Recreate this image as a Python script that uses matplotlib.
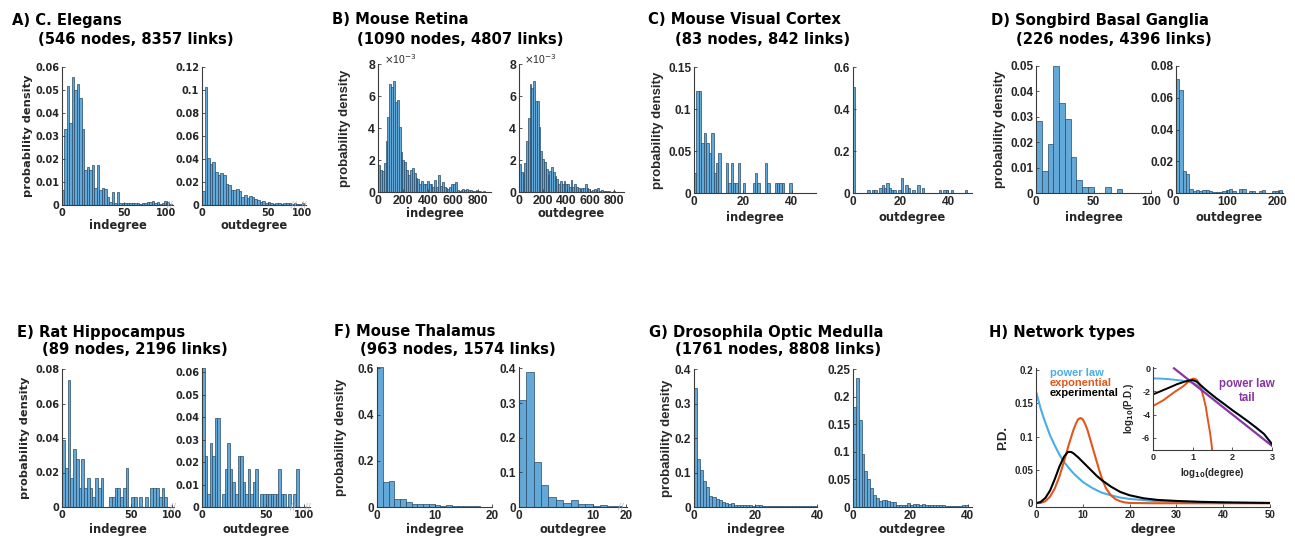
import matplotlib
matplotlib.use('Agg')
import matplotlib.pyplot as plt
from matplotlib.transforms import blended_transform_factory
import numpy as np

plt.rcParams['axes.unicode_minus'] = False

# ---------------- data (probability densities) ----------------
A_in_bin = 2
A_in = [0.0065, 0.033, 0.0516, 0.0357, 0.0554, 0.0499, 0.0525, 0.0463, 0.033, 0.015,
        0.0166, 0.015, 0.0174, 0.0075, 0.0174, 0.0065, 0.0075, 0.0068, 0.0035, 0.0012,
        0.0055, 0.001, 0.0055, 0.0008, 0.0008, 0.001, 0.001, 0.001, 0.001, 0.001,
        0.0008, 0.0004, 0.0008, 0.0008, 0.0012, 0.0012, 0.0016, 0.0008, 0.0012, 0.0004,
        0.0008, 0.0016, 0.0012, 0.0004]
A_out_bin = 2
A_out = [0.012, 0.1026, 0.041, 0.036, 0.037, 0.029, 0.026, 0.0275, 0.026, 0.018,
         0.017, 0.013, 0.013, 0.0135, 0.0125, 0.007, 0.0085, 0.006, 0.008, 0.007,
         0.005, 0.0045, 0.003, 0.0035, 0.002, 0.003, 0.0015, 0.001, 0.002, 0.0015,
         0.001, 0.002, 0.0015, 0.002, 0.001, 0.0015, 0.001, 0.001, 0.0015]

B_bin = 15          # values below in units of 1e-3
B_in = [1.7, 1.4, 1.33, 1.85, 3.2, 4.7, 6.8, 6.6, 6.95, 5.65,
        5.75, 4.1, 2.55, 2.0, 1.9, 1.4, 1.08, 1.4, 1.5, 1.2,
        0.9, 0.85, 0.55, 0.7, 0.55, 0.55, 0.7, 0.5, 0.55, 0.35,
        0.77, 0.35, 1.08, 0.42, 0.65, 0.35, 0.25, 0.2, 0.35, 0.55,
        0.55, 0.62, 0.15, 0.08, 0.15, 0.2, 0.15, 0.2, 0.15, 0.15,
        0.08, 0.08, 0.15, 0.08, 0.08, 0.04, 0.08]
B_out = [1.75, 1.3, 1.2, 1.85, 3.2, 4.65, 6.8, 6.55, 6.95, 5.7,
         5.7, 4.1, 2.6, 2.1, 1.9, 1.45, 1.1, 1.35, 1.6, 1.25,
         1.0, 0.85, 0.55, 0.7, 0.5, 0.7, 0.55, 0.5, 0.35, 0.8,
         0.35, 0.5, 0.35, 0.25, 0.2, 0.3, 0.3, 0.55, 0.25, 0.2,
         0.1, 0.15, 0.2, 0.15, 0.25, 0.1, 0.15, 0.1, 0.1, 0.1,
         0.08, 0.04, 0.05, 0.08, 0.04, 0.04, 0.0]

C_bin = 1
C_in = [0.024, 0.121, 0.121, 0.06, 0.072, 0.06, 0.048, 0.072, 0.024, 0.036,
        0.048, 0, 0, 0.036, 0.012, 0.036, 0.012, 0.012, 0.036, 0,
        0.012, 0, 0, 0, 0.012, 0.024, 0.012, 0, 0, 0.036,
        0.012, 0, 0, 0.012, 0.012, 0.012, 0.012, 0, 0, 0.012]
C_out = [0.506, 0, 0, 0, 0, 0, 0.012, 0, 0.012, 0.012,
         0, 0.024, 0.036, 0.024, 0.048, 0.024, 0.012, 0.012, 0, 0.012,
         0.072, 0, 0.036, 0.024, 0, 0.012, 0, 0.036, 0, 0.024,
         0, 0, 0, 0, 0, 0, 0.012, 0, 0.012, 0.012,
         0, 0.012, 0, 0, 0, 0, 0, 0.012]

D_in_bin = 5
D_in = [0.0283, 0.0087, 0.0194, 0.05, 0.0354, 0.0293, 0.0142, 0.0052, 0.0024, 0.0024,
        0, 0, 0.0024, 0, 0.0014]
D_out_bin = 6.5
D_out = [0.0716, 0.0647, 0.0139, 0.0122, 0.0027, 0.0013, 0.002, 0.0013, 0.002, 0.002,
         0.0013, 0.0007, 0.0007, 0.0007, 0.0013, 0.002, 0.0027, 0.0013, 0.0, 0.0027,
         0.0027, 0.0, 0.0013, 0.0013, 0.0, 0.0013, 0.002, 0.0, 0.0, 0.0013,
         0.0013, 0.002, 0.0]

E_bin = 2
E_in = [0.039, 0.0225, 0.0736, 0.0169, 0.0337, 0.028, 0.0112, 0.028, 0.0112, 0.0169,
        0.0112, 0.0056, 0.0169, 0.0112, 0.0169, 0, 0, 0.0056, 0.0056, 0.0112,
        0.0112, 0.0056, 0.0112, 0.0225, 0, 0.0056, 0.0056, 0, 0.0056, 0,
        0.0056, 0, 0.0112, 0.0112, 0.0112, 0.0056, 0.0112, 0.0056, 0, 0]
E_out = [0.062, 0.0227, 0.006, 0.0284, 0.0227, 0.0396, 0.0396, 0, 0.006, 0.017,
         0.0284, 0.017, 0.0113, 0.006, 0.0227, 0.0227, 0.0113, 0.006, 0.017, 0.006,
         0.0113, 0.017, 0, 0.006, 0.006, 0.006, 0.006, 0.006, 0.006, 0.006,
         0.017, 0.006, 0.006, 0, 0.006, 0, 0.006, 0.017, 0]

F_bin = 1
F_in = [0.605, 0.108, 0.113, 0.033, 0.033, 0.022, 0.014, 0.012, 0.014, 0.014,
        0.009, 0.006, 0.009, 0.003, 0.005, 0.003, 0.003, 0.003, 0.002, 0.002]
F_out = [0.31, 0.39, 0.13, 0.0627, 0.029, 0.021, 0.0125, 0.019, 0.008, 0.0096,
         0.003, 0.006, 0.002, 0.003]

G_bin = 1
G_in = [0.345, 0.139, 0.107, 0.075, 0.057, 0.033, 0.029, 0.022, 0.021, 0.0146,
        0.0126, 0.0097, 0.0116, 0.0068, 0.0058, 0.0068, 0.0049, 0.0049, 0.0058, 0.0039,
        0.0049, 0.0049, 0.0039, 0.0029, 0.0039, 0.0029, 0.0029, 0.0029, 0.0039, 0.0029,
        0.0029, 0.0039, 0.0019, 0.0029, 0.0019, 0.0019, 0.0029, 0.0019, 0.0029, 0.0029]
G_out = [0.182, 0.235, 0.158, 0.0965, 0.0655, 0.05, 0.0346, 0.021, 0.0164, 0.0103,
         0.0121, 0.0133, 0.0103, 0.0097, 0.0097, 0.0043, 0.0043, 0.0036, 0.0043, 0.0067,
         0.0036, 0.0049, 0.0055, 0.0036, 0.0049, 0.0036, 0.0036, 0.003, 0.0036, 0.0036,
         0.0036, 0.0043, 0.0024, 0.0024, 0.0024, 0.0024, 0.0024, 0.0024, 0.0036, 0.0043]

# H) network types: curves
H_pl_x = [0, 0.5, 1, 1.5, 2, 3, 4, 5, 6, 7, 8, 10, 12, 14, 16, 18, 20, 25, 30, 35, 40, 45, 50]
H_pl_y = [0.168, 0.155, 0.142, 0.131, 0.121, 0.102, 0.087, 0.073, 0.062, 0.053, 0.045, 0.032,
          0.023, 0.016, 0.012, 0.0085, 0.0065, 0.0035, 0.002, 0.0012, 0.0008, 0.0005, 0.0003]
H_ex_x = [0, 1, 2, 3, 4, 5, 6, 7, 8, 8.5, 9, 9.5, 10, 10.5, 11, 11.5, 12, 12.5, 13, 13.5,
          14, 14.5, 15, 16, 17, 18, 19, 20, 25, 30, 40, 50]
H_ex_y = [0, 0.0005, 0.003, 0.010, 0.022, 0.040, 0.063, 0.088, 0.110, 0.119, 0.126, 0.128,
          0.126, 0.119, 0.110, 0.098, 0.086, 0.074, 0.062, 0.050, 0.039, 0.030, 0.022, 0.012,
          0.006, 0.003, 0.0012, 0.0005, 0, 0, 0, 0]
H_xp_x = [0, 1, 2, 3, 4, 5, 6, 6.8, 7.5, 8, 9, 10, 11, 12, 13, 14, 15, 16, 18, 20, 23, 26,
          30, 35, 40, 45, 50]
H_xp_y = [0, 0.002, 0.008, 0.019, 0.036, 0.055, 0.070, 0.077, 0.077, 0.075, 0.069, 0.062,
          0.055, 0.048, 0.041, 0.035, 0.030, 0.025, 0.017, 0.012, 0.0075, 0.005, 0.0035,
          0.0022, 0.0014, 0.0009, 0.0005]
# inset (log10 scale)
I_pl_x = [0, 0.2, 0.4, 0.6, 0.8, 1.0, 1.2, 1.4, 1.6, 1.8, 2.0, 2.4, 2.8, 3.0]
I_pl_y = [-0.87, -0.89, -0.94, -1.01, -1.1, -1.25, -1.6, -2.05, -2.6, -3.1, -3.62, -4.6, -5.68, -6.55]
I_ex_x = [0, 0.27, 0.52, 0.77, 0.94, 1.02, 1.1, 1.18, 1.27, 1.33, 1.37, 1.41, 1.44, 1.47, 1.49]
I_ex_y = [-3.26, -2.74, -2.1, -1.53, -1.0, -0.88, -0.98, -1.4, -2.45, -3.3, -4.18, -5.0, -5.6, -6.4, -7.0]
I_xp_x = [0, 0.2, 0.4, 0.6, 0.8, 0.9, 1.0, 1.1, 1.2, 1.4, 1.6, 1.8, 2.0, 2.2, 2.4, 2.6, 2.8, 3.0]
I_xp_y = [-2.25, -1.97, -1.68, -1.38, -1.15, -1.06, -1.02, -1.15, -1.45, -2.05, -2.6, -3.1,
          -3.62, -4.1, -4.6, -5.12, -5.68, -6.55]
I_tail_x = [0.53, 3.0]
I_tail_y = [0.0, -6.7]

# ---------------- styling ----------------
W, H = 1295, 537
fig = plt.figure(figsize=(W / 100, H / 100), dpi=100)
FC = '#62a8d8'
EC = '#2a4a63'
TXT = '#262626'
SP = '#3c3c3c'
DJ = 'DejaVu Sans'
AR = 'Liberation Sans'
C_BLUE = '#4aaee6'
C_ORG = '#e2561c'
C_PUR = '#8a35a3'


def make_ax(l, r, t, b):
    return fig.add_axes([l / W, 1 - b / H, (r - l) / W, (b - t) / H])


def style(ax):
    for s in ['top', 'right']:
        ax.spines[s].set_visible(False)
    for s in ['left', 'bottom']:
        ax.spines[s].set_color(SP)
        ax.spines[s].set_linewidth(0.8)
    ax.tick_params(direction='in', length=2.5, width=0.6, colors=SP, labelcolor=TXT, pad=2)


def place_labels(ax, box, xlab_y, ylab_x):
    l, r, t, b = box
    ax.xaxis.set_label_coords(0.5, (b - xlab_y) / (b - t))
    ax.xaxis.label.set_va('center')
    ax.yaxis.set_label_coords((ylab_x - l) / (r - l), 0.5)
    ax.yaxis.label.set_va('center')


def hist_panel(box, heights, binw, xlim, ylim, xticks, xlabels, yticks, xlabel, ylabel,
               tfont, tsize, xfont, xsize, yfont, ysize, xlab_y, ylab_x, breaks=()):
    ax = make_ax(*box)
    starts = binw * np.arange(len(heights))
    ax.bar(starts, heights, width=binw, align='edge', color=FC, edgecolor=EC, linewidth=0.5)
    ax.set_xlim(xlim)
    ax.set_ylim(ylim)
    style(ax)
    ax.set_xticks(xticks, xlabels, fontfamily=tfont, fontweight='bold', fontsize=tsize)
    ax.set_yticks(yticks, ['%g' % v for v in yticks], fontfamily=tfont, fontweight='bold',
                  fontsize=tsize)
    ax.set_xlabel(xlabel, fontfamily=xfont, fontweight='bold', fontsize=xsize, color=TXT)
    if ylabel:
        ax.set_ylabel(ylabel, fontfamily=yfont, fontweight='bold', fontsize=ysize, color=TXT)
    place_labels(ax, box, xlab_y, ylab_x)
    tr = blended_transform_factory(ax.transData, ax.transAxes)
    for bx in breaks:
        ax.text(bx, 0.0, '//', transform=tr, ha='center', va='center', fontsize=6,
                color='#b5b5b5', fontfamily=DJ, clip_on=False)
    return ax


def title(x, y, s, size=10.6):
    fig.text(x / W, 1 - y / H, s, ha='left', va='center', fontfamily=DJ, fontweight='bold',
             fontsize=size, color='black')


PD = 'probability density'

# ---- A ----
hist_panel((62, 173, 66.7, 205), A_in, A_in_bin, (0, 88.9), (0, 0.06), [0, 50, 83.5],
           ['0', '50', '100'], np.arange(0, 0.061, 0.01), 'indegree', PD,
           DJ, 7, DJ, 8.3, DJ, 8.2, 226, 28, breaks=[86])
hist_panel((202, 306, 66.7, 205), A_out, A_out_bin, (0, 79.3), (0, 0.12), [0, 50, 76],
           ['0', '50', '100'], np.arange(0, 0.121, 0.02), 'outdegree', None,
           DJ, 7, DJ, 8.3, DJ, 8.2, 226, 170, breaks=[70, 77.5])
title(12, 20, 'A) C. Elegans')
title(38, 39, '(546 nodes, 8357 links)')

# ---- B ----
axb1 = hist_panel((378, 491, 64.3, 192.3), B_in, B_bin, (0, 904), (0, 8), [0, 200, 400, 600, 800],
                  ['0', '200', '400', '600', '800'], [0, 2, 4, 6, 8], 'indegree', PD,
                  AR, 8.8, DJ, 8.3, AR, 9.5, 214, 345)
axb2 = hist_panel((519, 624, 64.3, 192.3), B_out, B_bin, (0, 884), (0, 8), [0, 200, 400, 600, 800],
                  ['0', '200', '400', '600', '800'], [0, 2, 4, 6, 8], 'outdegree', None,
                  AR, 8.8, DJ, 8.3, AR, 9.5, 214, 490)
for axb in (axb1, axb2):
    axb.text(0.05, 1.04, r'$\times$10$^{-3}$', transform=axb.transAxes, ha='left', va='center',
             fontsize=7.5, fontfamily=AR, color=TXT)
title(332, 20, 'B) Mouse Retina')
title(357, 39, '(1090 nodes, 4807 links)')

# ---- C ----
hist_panel((694, 816, 67, 193), C_in, C_bin, (0, 50), (0, 0.15), [0, 20, 40], ['0', '20', '40'],
           [0, 0.05, 0.1, 0.15], 'indegree', PD, AR, 8.5, DJ, 8.3, AR, 9.5, 218, 658)
hist_panel((853, 972, 67, 193), C_out, C_bin, (0, 50), (0, 0.6), [0, 20, 40], ['0', '20', '40'],
           [0, 0.2, 0.4, 0.6], 'outdegree', None, AR, 8.5, DJ, 8.3, AR, 9.5, 218, 820)
title(648, 20, 'C) Mouse Visual Cortex')
title(675, 39, '(83 nodes, 842 links)')

# ---- D ----
hist_panel((1036, 1151, 66, 193), D_in, D_in_bin, (0, 100), (0, 0.05), [0, 50, 100],
           ['0', '50', '100'], np.arange(0, 0.051, 0.01), 'indegree', PD,
           AR, 8.5, DJ, 8.3, AR, 9.5, 218, 1000)
hist_panel((1176, 1283, 66, 193), D_out, D_out_bin, (0, 210), (0, 0.08), [0, 100, 200],
           ['0', '100', '200'], np.arange(0, 0.081, 0.02), 'outdegree', None,
           AR, 8.5, DJ, 8.3, AR, 9.5, 218, 1140)
title(991, 20, 'D) Songbird Basal Ganglia')
title(1016, 39, '(226 nodes, 4396 links)')

# ---- E ----
hist_panel((62, 174, 369, 507), E_in, E_bin, (0, 81), (0, 0.08), [0, 50, 79.8],
           ['0', '50', '100'], np.arange(0, 0.081, 0.02), 'indegree', PD,
           DJ, 7, DJ, 8.3, DJ, 8.2, 530, 25, breaks=[80])
hist_panel((202, 310, 368, 507), E_out, E_bin, (0, 85), (0, 0.062), [0, 50, 80.3],
           ['0', '50', '100'], np.arange(0, 0.061, 0.01), 'outdegree', None,
           DJ, 7, DJ, 8.3, DJ, 8.2, 530, 170, breaks=[71.5, 83])
title(17, 332, 'E) Rat Hippocampus')
title(42, 350, '(89 nodes, 2196 links)')

# ---- F ----
hist_panel((377, 492, 366.7, 507), F_in, F_bin, (0, 20), (0, 0.607), [0, 10, 20], ['0', '10', '20'],
           [0, 0.2, 0.4, 0.6], 'indegree', PD, AR, 8.5, DJ, 8.3, AR, 9.5, 530, 341)
hist_panel((519, 627, 366.7, 507), F_out, F_bin, (0, 14.65), (0, 0.405), [0, 10, 14.5],
           ['0', '10', '20'], [0, 0.1, 0.2, 0.3, 0.4], 'outdegree', None,
           AR, 8.5, DJ, 8.3, AR, 9.5, 530, 490, breaks=[13.8])
title(334, 332, 'F) Mouse Thalamus')
title(360, 350, '(963 nodes, 1574 links)')

# ---- G ----
hist_panel((694, 817, 369.3, 507), G_in, G_bin, (0, 40), (0, 0.4), [0, 20, 40], ['0', '20', '40'],
           [0, 0.1, 0.2, 0.3, 0.4], 'indegree', PD, AR, 8.5, DJ, 8.3, AR, 9.5, 530, 667)
hist_panel((853, 972, 369.3, 507), G_out, G_bin, (0, 41.5), (0, 0.25), [0, 20, 40],
           ['0', '20', '40'], [0, 0.05, 0.1, 0.15, 0.2, 0.25], 'outdegree', None,
           AR, 8.5, DJ, 8.3, AR, 9.5, 530, 820)
title(649, 332, 'G) Drosophila Optic Medulla')
title(675, 350, '(1761 nodes, 8808 links)')

# ---- H ----
boxH = (1036, 1270, 368.3, 507)
axh = make_ax(*boxH)
axh.plot(H_pl_x, H_pl_y, color=C_BLUE, lw=1.5)
axh.plot(H_ex_x, H_ex_y, color=C_ORG, lw=1.5)
axh.plot(H_xp_x, H_xp_y, color='black', lw=1.5)
axh.set_xlim(0, 50)
axh.set_ylim(-0.0056, 0.2026)
style(axh)
axh.set_xticks([0, 10, 20, 30, 40, 50], ['0', '10', '20', '30', '40', '50'], fontfamily=AR,
               fontweight='bold', fontsize=7)
hy = [0, 0.05, 0.1, 0.15, 0.2]
axh.set_yticks(hy, ['%g' % v for v in hy], fontfamily=AR, fontweight='bold', fontsize=7)
axh.set_xlabel('degree', fontfamily=DJ, fontweight='bold', fontsize=8.3, color=TXT)
axh.set_ylabel('P.D.', fontfamily=AR, fontweight='bold', fontsize=9.5, color=TXT)
place_labels(axh, boxH, 530, 1003)
fig.text(1050 / W, 1 - 373 / H, 'power law', color=C_BLUE, fontfamily=AR, fontweight='bold',
         fontsize=8, ha='left', va='center')
fig.text(1050 / W, 1 - 383 / H, 'exponential', color=C_ORG, fontfamily=AR, fontweight='bold',
         fontsize=8, ha='left', va='center')
fig.text(1050 / W, 1 - 393 / H, 'experimental', color='black', fontfamily=AR, fontweight='bold',
         fontsize=8, ha='left', va='center')
title(989, 332, 'H) Network types')

boxI = (1153, 1272, 366.7, 450)
axi = make_ax(*boxI)
axi.set_facecolor('white')
axi.plot(I_pl_x, I_pl_y, color=C_BLUE, lw=1.4)
axi.plot(I_ex_x, I_ex_y, color=C_ORG, lw=1.4)
axi.plot(I_tail_x, I_tail_y, color=C_PUR, lw=1.6)
axi.plot(I_xp_x, I_xp_y, color='black', lw=1.4)
axi.set_xlim(0, 3)
axi.set_ylim(-7.06, 0.14)
style(axi)
axi.set_xticks([0, 1, 2, 3], ['0', '1', '2', '3'], fontfamily=AR, fontweight='bold', fontsize=6.5)
axi.set_yticks([-6, -4, -2, 0], ['-6', '-4', '-2', '0'], fontfamily=AR, fontweight='bold',
               fontsize=6.5)
axi.set_xlabel(r'log$_{\mathbf{10}}$(degree)', fontfamily=AR, fontweight='bold', fontsize=7,
               color=TXT)
axi.set_ylabel(r'log$_{\mathbf{10}}$(P.D.)', fontfamily=AR, fontweight='bold', fontsize=7,
               color=TXT)
place_labels(axi, boxI, 473, 1129)
fig.text(1247 / W, 1 - 391 / H, 'power law\ntail', color=C_PUR, fontfamily=AR, fontweight='bold',
         fontsize=8.3, ha='center', va='center', linespacing=1.25)

fig.savefig('out.png', dpi=100)
